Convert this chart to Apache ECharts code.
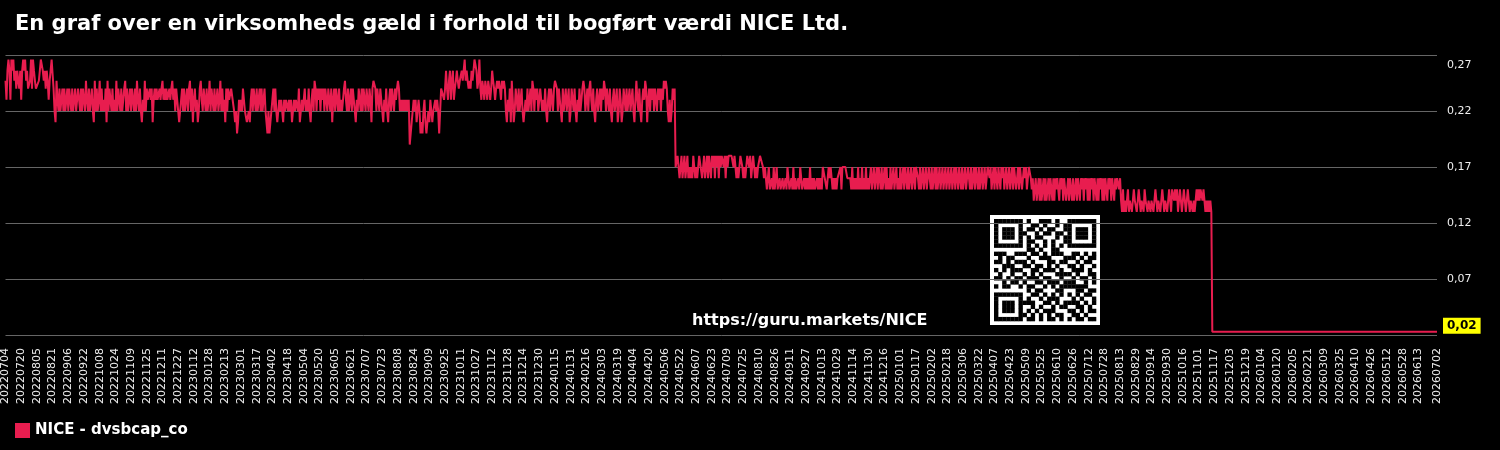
<!DOCTYPE html>
<html>
<head>
<meta charset="utf-8">
<title>NICE - dvsbcap_co</title>
<script src="https://cdn.jsdelivr.net/npm/echarts@6/dist/echarts.min.js"></script>
<style>
	html, body { margin: 0; padding: 0; background: #000; }
	#chart { width: 1500px; height: 450px; }
</style>
</head>
<body>
<div id="chart"></div>
<script>
	//første og sidste dag på x-aksen (én kategori pr. dag)
	var startDate = '2022-07-04';
	var endDate = '2026-07-02';

	//gæld / bogført værdi, aflæst pr. dag, i hundrededele (24.7 => 0,247)
	var r2022 = [
		24.7,23,25.6,26.6,25.6,23,26.6,25.6,26.6,24.7,25.6,24,25.6,24.7,24,25.6,
		23,25.6,26.6,25.6,26.6,24.7,25.6,24,24,24.7,26.6,24,26.6,25.6,24.7,24,
		24,24,24.7,25.6,26.6,26.6,25.6,24.7,25.6,24,25.6,24.7,23,24.7,25.6,26.6,
		26.6,24,22,21,24.7,23,22,24,22,23,24,22,24,22,23,24,
		22,24,23,22,24,22,23,24,22,22,24,23,22,24,22,24,
		23,22,24.7,23,22,24,22,23,24,22,21,24.7,22,24,22,23,
		24.7,22,24,22,23,22,24,21,24.7,22,24,23,22,24,22,23,
		22,24.7,22,24,23,22,24,22,23,24,24.7,22,24,22,23,24,
		22,24,23,22,24,22,24.7,23,22,24,22,21,23,22,24.7,22,
		24,23,23,24,23,24,21,23,24,23,24,23,23,24,23,24,
		24.7,23,24,23,24,23,23,24,23,24,24.7,23,24,22,24,23,
		22,21,21,23,24
	];
	var r2023 = [
		22,24,22,23,24,22,24,24.7,22,24,21,23,24,22,23,21,
		22,24,24.7,23,22,24,23,22,24,22,23,24.7,22,24,23,22,
		24,22,23,24,22,23,24.7,22,24,22,23,21,24,22,24,23,
		23,24,24,24,22,21,22,20,21,23,22,23,22,24,23,22,
		22,21,21,22,21,23,24,22,24,23,22,24,22,23,24,22,
		24,22,23,24,22,21,20,22,20,21,22,23,24,22,24,22,
		21,22,23,22,23,22,21,23,22,23,23,22,23,22,23,21,
		22,23,22,23,23,22,24,21,22,23,22,23,24,22,23,22,
		24,22,21,23,24,22,24.7,24,22,24,23,24,22,24,23,24,
		22,24,23,22,24,23,22,24,21,23,24,22,24,23,22,24,
		22,23,22,23,24,24.7,23,22,24,22,23,24,22,24,23,22,
		21,23,22,24,23,22,24,22,24,23,22,24,23,22,24,23,
		21,24,24.7,24.7,24,22,24,23,22,24,23,22,21,23,22,24,
		22,21,23,24,22,24,23,22,24,23,24,24.7,24,22,23,22,
		23,22,23,22,23,22,23,19,19,19,22,23,22,23,21,22,
		23,22,20,21,20,22,23,21,20,21,22,21,23,22,21,22,
		22,23,22,23,22,20,22,24,24,24,23,24,25.6,24,23,24.7,
		25.6,23,24.7,25.6,23,24,24.7,25.6,24.7,24,24.7,24.7,25.6,24.7,24.7,26.6,
		24.7,25.6,24.7,24,24.7,24,25.6,24.7,25.6,26.6,26.6,25.6,24,24.7,26.6,24,
		23,24.7,24,23,24.7,24,23,24.7,24,23,24,25.6,24.7,24,23,24,
		24.7,24,24.7,24,23,24.7,24,24.7,24,22,21,23,22,24,21,24.7,
		23,21,22,24,23,22,24,22,23,24,22,21,21,23,22,24,
		22,23,24,22,24.7,24,22,24,23,24,22,23,24
	];
	var r2024 = [
		24,22,23,22,24,22,21,23,24,22,24,23,22,24,24.7,24.7,
		24,22,24,23,22,21,24,22,23,24,22,23,24,21,22,24,
		23,22,24,22,21,23,22,24,22,23,24,24.7,24,22,23,24,
		22,24,24.7,23,22,24,22,21,23,24,22,23,24,22,24,23,
		24.7,24,22,24,23,22,24,22,21,23,24,22,23,24,21,22,
		24,23,21,22,24,23,22,24,22,23,24,22,23,24,22,21,
		23,24.7,23,22,24,22,21,23,24,23,24.7,24,21,23,24,22,
		24,23,24,22,24,23,22,24,23,24,22,24,23,24.7,24,24.7,
		24,22,21,23,21,22,24,23,24,17,17,18,17,16,17,18,
		16,17,18,16,17,18,16,17,16,17,16,18,17,16,17,16,
		17,18,18,18,16,17,18,16,17,18,16,18,17,16,18,17,
		18,16,18,17,18,16,18,17,18,18,17,18,16,18,17,18,
		18,18,18,18,17,18,18,16,17,16,17,18,18,17,16,17,
		16,17,18,18,17,18,16,17,18,17,16,17,16,17,17,18,
		18,18,17,16,17,16,15,16,17,15,15,16,15,17,15,16,
		17,15,15,16,15,15,16,15,15,16,15,17,16,15,15,16,
		15,17,15,16,15,15,16,15,17,16,15,15,16,15,16,15,
		16,15,17,15,16,15,16,15,15,16,15,16,15,16,15,17,
		17,16,16,15,16,17,16,17,16,15,16,15,16,15,16,16,
		16,17,15,17,17,17,17,17,16,16,16,16,15,17,15,16,
		15,16,15,17,15,16,15,17,15,16,15,17,15,16,15,16,
		17,15,16,17,15,16,17,15,17,16,15,17,15,16,17,15,
		17,15,16,15,17,15,16,17,15,16,17,15,16,15
	];
	var r2025 = [
		17,15,16,17,15,17,16,15,17,15,16,17,15,16,17,15,
		17,17,16,15,17,15,16,17,15,16,17,15,15,17,16,15,
		17,15,16,17,15,17,15,16,17,15,16,17,15,16,17,15,
		16,17,15,16,17,15,16,17,15,17,16,15,17,16,15,17,
		15,16,17,15,16,17,16,15,17,15,16,17,15,17,16,15,
		17,15,16,17,15,16,17,15,16,17,17,16,17,15,16,17,
		15,17,16,15,17,16,15,17,16,17,15,16,17,15,16,17,
		15,16,17,15,17,16,15,16,17,15,17,16,15,16,17,16,
		17,15,16,17,17,16,15,16,14,15,16,14,15,16,14,16,
		14,15,16,14,16,14,15,16,14,16,15,14,16,14,16,15,
		16,16,14,16,15,16,14,16,16,14,15,16,14,16,15,14,
		16,14,15,16,14,16,15,14,16,15,16,14,16,15,16,14,
		16,14,16,15,16,14,16,15,14,16,14,16,15,16,14,16,
		14,16,15,14,16,15,16,14,16,15,14,16,15,16,16,15,
		16,14,13,15,13,14,13,14,15,13,14,14,13,14,15,14,
		14,13,14,15,14,13,14,14,13,15,14,14,13,14,14,13,
		14,14,13,14,15,14,13,14,14,13,14,15,14,13,14,14,
		13,14,15,14,13,15,15,14,15,14,15,13,14,15,14,13,
		14,15,14,13,14,15,14,13,14,14,13,14,13,14,15,14,
		15,14,15,15,14,15,14,13,14,13,14,13,14,13
	];
	//niveau efter faldet, holdes til sidste dag
	var tailValue = 0.023;

	//y-akse: mindste, største og trin
	var yMin = 0.02, yMax = 0.27, yStep = 0.05;
	//hver 16. dato vises på x-aksen
	var labelEvery = 16;

	var titleText = 'En graf over en virksomheds gæld i forhold til bogført værdi NICE Ltd.';
	var seriesName = 'NICE - dvsbcap_co';
	var siteUrl = 'https://guru.markets/NICE';
	var lineColor = '#e81d4f';

	//QR-kode (1 = sort modul)
	var qrRows = [
		'1111111010011101001111111',
		'1000001001101001011000001',
		'1011101011010110011011101',
		'1011101100101101101011101',
		'1011101010110001011011101',
		'1000001011001010011000001',
		'1111111010101010101111111',
		'0000000011010011000000000',
		'1110011101101011100110101',
		'0101100010011100011101011',
		'1101011101000110110010110',
		'0011100110110101001101001',
		'1010111001101110100111010',
		'0100100101010001111010011',
		'1101011011101100100101101',
		'0010110100110111011100101',
		'1011001011001010111111100',
		'0000000010110001100011011',
		'1111111001101010101010110',
		'1000001010010111000101001',
		'1011101111001101011110101',
		'1011101001010010110011010',
		'1011101010101110001101011',
		'1000001101010101100110100',
		'1111111011010110101011011'
	];

	//alle datoer fra start til slut
	function buildDates(from, to) {
		var out = [];
		var d = new Date(from + 'T00:00:00Z');
		var end = new Date(to + 'T00:00:00Z');
		while (d <= end) {
			out.push(d.toISOString().slice(0, 10).replace(/-/g, ''));
			d.setUTCDate(d.getUTCDate() + 1);
		}
		return out;
	}

	var dates = buildDates(startDate, endDate);
	var lastIndex = dates.length - 1;
	var measured = r2022.concat(r2023, r2024, r2025);
	var lineData = [];
	for (var i = 0; i < dates.length; i++) {
		if (i < measured.length) {
			lineData.push(measured[i] / 100);
		} else if (i === measured.length || i === lastIndex) {
			lineData.push(tailValue);
		} else {
			lineData.push(null);
		}
	}

	//QR som grafik
	var qrSize = 110, qrPad = 4, qrCell = (qrSize - 2 * qrPad) / qrRows.length;
	var qrChildren = [{
		type: 'rect',
		shape: { x: 0, y: 0, width: qrSize, height: qrSize },
		style: { fill: '#ffffff' }
	}];
	for (var r = 0; r < qrRows.length; r++) {
		for (var c = 0; c < qrRows[r].length; c++) {
			if (qrRows[r].charAt(c) === '1') {
				qrChildren.push({
					type: 'rect',
					shape: { x: qrPad + c * qrCell, y: qrPad + r * qrCell, width: qrCell + 0.3, height: qrCell + 0.3 },
					style: { fill: '#000000' }
				});
			}
		}
	}

	function fmt(v) {
		return v.toFixed(2).replace('.', ',');
	}

	var option = {
		backgroundColor: '#000000',
		animation: false,
		textStyle: { fontFamily: 'DejaVu Sans' },
		title: {
			text: titleText,
			left: 15,
			top: 14,
			padding: 0,
			textStyle: { color: '#ffffff', fontSize: 21, fontWeight: 'bold', fontFamily: 'DejaVu Sans' }
		},
		legend: {
			left: 15,
			top: 423,
			padding: 0,
			icon: 'rect',
			itemWidth: 15,
			itemHeight: 15,
			itemGap: 10,
			textStyle: { color: '#ffffff', fontSize: 15, fontWeight: 'bold' },
			data: [seriesName]
		},
		grid: {
			left: 5,
			right: 63,
			top: 55,
			bottom: 115
		},
		xAxis: {
			type: 'category',
			boundaryGap: false,
			data: dates,
			axisLine: { show: false },
			axisTick: { show: false },
			splitLine: { show: false },
			axisLabel: {
				color: '#eeeeee',
				fontSize: 11,
				rotate: 90,
				margin: 13,
				interval: function (index) {
					if (index === lastIndex) return true;
					return index % labelEvery === 0 && lastIndex - index > labelEvery / 2;
				}
			}
		},
		yAxis: {
			type: 'value',
			position: 'right',
			min: yMin,
			max: yMax,
			interval: yStep,
			axisLine: { show: false },
			axisTick: { show: false },
			splitLine: { show: true, lineStyle: { color: '#666666', width: 1 } },
			axisLabel: {
				color: '#eeeeee',
				fontSize: 11,
				margin: 10,
				lineHeight: 20,
				showMinLabel: false,
				verticalAlignMaxLabel: 'top',
				formatter: fmt
			}
		},
		graphic: [{
			type: 'group',
			left: 990,
			top: 215,
			children: qrChildren
		}, {
			type: 'text',
			left: 692,
			top: 313,
			style: {
				text: siteUrl,
				fill: '#ffffff',
				fontSize: 16,
				fontWeight: 'bold',
				fontFamily: 'DejaVu Sans'
			}
		}],
		series: [{
			name: seriesName,
			type: 'line',
			data: lineData,
			connectNulls: true,
			showSymbol: false,
			symbol: 'none',
			color: lineColor,
			lineStyle: { color: lineColor, width: 2 },
			endLabel: {
				show: true,
				formatter: function (p) { return fmt(p.value); },
				backgroundColor: '#ffff00',
				color: '#000000',
				fontWeight: 'bold',
				fontSize: 12,
				padding: [2, 4, 2, 4],
				distance: 6,
				offset: [0, -6]
			}
		}]
	};

	var myChart = echarts.init(document.getElementById('chart'));
	myChart.setOption(option);
</script>
</body>
</html>
